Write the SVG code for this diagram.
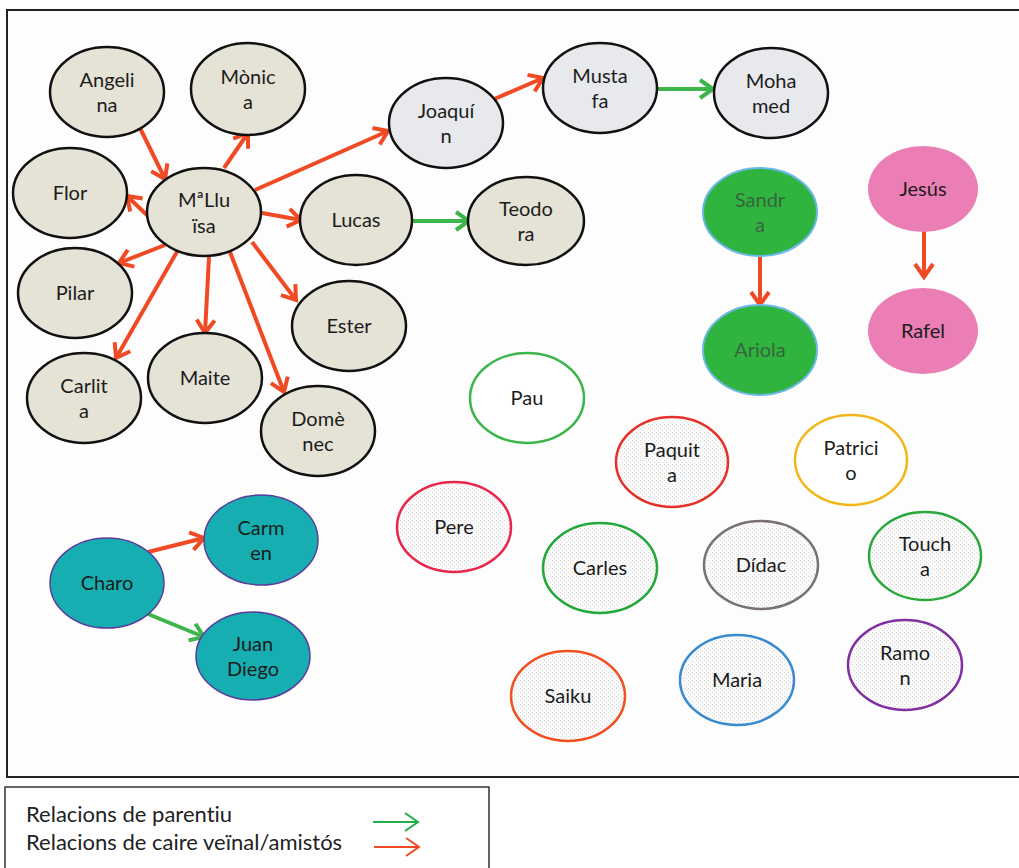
<svg xmlns="http://www.w3.org/2000/svg" width="1019" height="868" viewBox="0 0 1019 868">
<defs>
<style>
.t{font-family:Lato,"Open Sans","Liberation Sans",sans-serif;font-size:20px;fill:#1c1c1c;text-anchor:middle;font-variant-ligatures:none}
.lg{font-family:Lato,"Open Sans","Liberation Sans",sans-serif;font-size:22px;fill:#222;font-variant-ligatures:none}
.beige{fill:#e5e2d6;stroke:#111;stroke-width:2.5}
.grey{fill:#e7e9ec;stroke:#111;stroke-width:2.5}
.sand{fill:#2fb53f;stroke:#6ab8e8;stroke-width:2}
.pink{fill:#ea7eb5}
.teal{fill:#16aeb0;stroke:#5a3c9c;stroke-width:1.5}
.ring{stroke-width:2.5}
.red{stroke:#f04a24;stroke-width:4;fill:none;marker-end:url(#ar)}
.grn{stroke:#3db54a;stroke-width:4;fill:none;marker-end:url(#ag)}
</style>
<pattern id="dots" width="4" height="4" patternUnits="userSpaceOnUse">
<rect width="4" height="4" fill="#fbfbfb"/>
<rect x="0" y="0" width="1" height="1" fill="#d8d8d8"/>
<rect x="2" y="2" width="1" height="1" fill="#d8d8d8"/>
</pattern>
<marker id="ar" markerUnits="userSpaceOnUse" markerWidth="24" markerHeight="24" refX="14" refY="10" orient="auto" overflow="visible">
<path d="M1,1 L14,10 L1,19" fill="none" stroke="#f04a24" stroke-width="4" stroke-linejoin="miter"/>
</marker>
<marker id="ag" markerUnits="userSpaceOnUse" markerWidth="24" markerHeight="24" refX="14" refY="10" orient="auto" overflow="visible">
<path d="M1,1 L14,10 L1,19" fill="none" stroke="#3db54a" stroke-width="4" stroke-linejoin="miter"/>
</marker>
<marker id="lr" markerUnits="userSpaceOnUse" markerWidth="24" markerHeight="24" refX="14" refY="10" orient="auto" overflow="visible">
<path d="M1,1 L14,10 L1,19" fill="none" stroke="#f04a24" stroke-width="2"/>
</marker>
<marker id="lgm" markerUnits="userSpaceOnUse" markerWidth="24" markerHeight="24" refX="14" refY="10" orient="auto" overflow="visible">
<path d="M1,1 L14,10 L1,19" fill="none" stroke="#1fae48" stroke-width="2"/>
</marker>
</defs>
<rect width="1019" height="868" fill="#fff"/>
<rect x="7" y="10" width="1030" height="767" fill="#fdfdfd" stroke="#222" stroke-width="2"/>
<rect x="5" y="787" width="484" height="100" fill="#fff" stroke="#333" stroke-width="1.5"/>

<g id="connectors">
<line class="red" x1="140" y1="128" x2="165" y2="179"/>
<line class="red" x1="224" y1="168" x2="248" y2="133"/>
<line class="red" x1="149" y1="217" x2="127" y2="196"/>
<line class="red" x1="255" y1="190" x2="388" y2="131"/>
<line class="red" x1="262" y1="213" x2="301" y2="220"/>
<line class="red" x1="165" y1="245" x2="119" y2="263"/>
<line class="red" x1="178" y1="250" x2="116" y2="358"/>
<line class="red" x1="209" y1="257" x2="205" y2="333"/>
<line class="red" x1="230" y1="252" x2="284" y2="392"/>
<line class="red" x1="252" y1="242" x2="296" y2="300"/>
<line class="red" x1="492" y1="100" x2="543" y2="78"/>
<line class="red" x1="760" y1="257" x2="760" y2="305"/>
<line class="red" x1="924" y1="230" x2="924" y2="277"/>
<line class="red" x1="148" y1="552" x2="204" y2="538"/>
<line class="grn" x1="657" y1="89" x2="713" y2="89"/>
<line class="grn" x1="412" y1="221" x2="469" y2="221"/>
<line class="grn" x1="148" y1="614" x2="204" y2="637"/>
</g>

<g id="n-angelina"><ellipse class="beige" cx="107" cy="92" rx="57" ry="45"/><text class="t" x="107" y="87">Angeli</text><text class="t" x="107" y="112">na</text></g>
<g id="n-monica"><ellipse class="beige" cx="248" cy="89" rx="57" ry="46"/><text class="t" x="248" y="84">Mònic</text><text class="t" x="248" y="109">a</text></g>
<g id="n-flor"><ellipse class="beige" cx="70" cy="193" rx="57" ry="45"/><text class="t" x="70" y="200">Flor</text></g>
<g id="n-mlluisa"><ellipse class="beige" cx="204" cy="212" rx="57" ry="44"/><text class="t" x="204" y="207">MªLlu</text><text class="t" x="204" y="233">ïsa</text></g>
<g id="n-lucas"><ellipse class="beige" cx="356" cy="220" rx="56" ry="45"/><text class="t" x="356" y="227">Lucas</text></g>
<g id="n-pilar"><ellipse class="beige" cx="75" cy="293" rx="57" ry="45"/><text class="t" x="75" y="300">Pilar</text></g>
<g id="n-carlita"><ellipse class="beige" cx="84" cy="398" rx="57" ry="45"/><text class="t" x="84" y="393">Carlit</text><text class="t" x="84" y="418">a</text></g>
<g id="n-maite"><ellipse class="beige" cx="205" cy="378" rx="57" ry="45"/><text class="t" x="205" y="385">Maite</text></g>
<g id="n-ester"><ellipse class="beige" cx="349" cy="326" rx="57" ry="45"/><text class="t" x="349" y="333">Ester</text></g>
<g id="n-domenec"><ellipse class="beige" cx="318" cy="431" rx="57" ry="45"/><text class="t" x="318" y="426">Domè</text><text class="t" x="318" y="451">nec</text></g>
<g id="n-joaquin"><ellipse class="grey" cx="446" cy="123" rx="57" ry="45"/><text class="t" x="446" y="118">Joaquí</text><text class="t" x="446" y="143">n</text></g>
<g id="n-mustafa"><ellipse class="grey" cx="600" cy="88" rx="57" ry="45"/><text class="t" x="600" y="83">Musta</text><text class="t" x="600" y="108">fa</text></g>
<g id="n-mohamed"><ellipse class="grey" cx="771" cy="93" rx="57" ry="45"/><text class="t" x="771" y="88">Moha</text><text class="t" x="771" y="113">med</text></g>
<g id="n-teodora"><ellipse class="beige" cx="526" cy="221" rx="58" ry="44"/><text class="t" x="526" y="216">Teodo</text><text class="t" x="526" y="241">ra</text></g>
<g id="n-sandra"><ellipse class="sand" cx="760" cy="212" rx="57" ry="44"/><text class="t" x="760" y="207" style="fill:#3c4a3c;opacity:.75">Sandr</text><text class="t" x="760" y="232" style="fill:#3c4a3c;opacity:.75">a</text></g>
<g id="n-ariola"><ellipse class="sand" cx="760" cy="350" rx="57" ry="45"/><text class="t" x="760" y="357" style="fill:#3c4a3c;opacity:.75">Ariola</text></g>
<g id="n-jesus"><ellipse class="pink" cx="923" cy="189" rx="55" ry="43"/><text class="t" x="923" y="196">Jesús</text></g>
<g id="n-rafel"><ellipse class="pink" cx="923" cy="331" rx="55" ry="43"/><text class="t" x="923" y="338">Rafel</text></g>
<g id="n-pau"><ellipse class="ring" fill="#fff" stroke="#3cb54a" cx="527" cy="398" rx="57" ry="45"/><text class="t" x="527" y="405">Pau</text></g>
<g id="n-paquita"><ellipse class="ring" fill="url(#dots)" stroke="#e8302a" cx="672" cy="462" rx="56" ry="45"/><text class="t" x="672" y="457">Paquit</text><text class="t" x="672" y="482">a</text></g>
<g id="n-patricio"><ellipse class="ring" fill="#fff" stroke="#f2b81a" cx="851" cy="460" rx="56" ry="45"/><text class="t" x="851" y="455">Patrici</text><text class="t" x="851" y="480">o</text></g>
<g id="n-pere"><ellipse class="ring" fill="url(#dots)" stroke="#e8284a" cx="454" cy="527" rx="57" ry="45"/><text class="t" x="454" y="534">Pere</text></g>
<g id="n-carles"><ellipse class="ring" fill="url(#dots)" stroke="#22a83a" cx="600" cy="568" rx="57" ry="45"/><text class="t" x="600" y="575">Carles</text></g>
<g id="n-didac"><ellipse class="ring" fill="url(#dots)" stroke="#7a7272" cx="761" cy="565" rx="57" ry="44"/><text class="t" x="761" y="572">Dídac</text></g>
<g id="n-toucha"><ellipse class="ring" fill="url(#dots)" stroke="#2aa83c" cx="925" cy="556" rx="56" ry="44"/><text class="t" x="925" y="551">Touch</text><text class="t" x="925" y="576">a</text></g>
<g id="n-saiku"><ellipse class="ring" fill="url(#dots)" stroke="#f05020" cx="568" cy="696" rx="57" ry="45"/><text class="t" x="568" y="703">Saiku</text></g>
<g id="n-maria"><ellipse class="ring" fill="url(#dots)" stroke="#3a8ad0" cx="737" cy="680" rx="57" ry="45"/><text class="t" x="737" y="687">Maria</text></g>
<g id="n-ramon"><ellipse class="ring" fill="url(#dots)" stroke="#8030a0" cx="905" cy="665" rx="57" ry="45"/><text class="t" x="905" y="660">Ramo</text><text class="t" x="905" y="685">n</text></g>
<g id="n-charo"><ellipse class="teal" cx="107" cy="583" rx="57" ry="45"/><text class="t" x="107" y="590">Charo</text></g>
<g id="n-carmen"><ellipse class="teal" cx="261" cy="540" rx="57" ry="45"/><text class="t" x="261" y="535">Carm</text><text class="t" x="261" y="560">en</text></g>
<g id="n-juandiego"><ellipse class="teal" cx="253" cy="656" rx="57" ry="44"/><text class="t" x="253" y="651">Juan</text><text class="t" x="253" y="676">Diego</text></g>

<g id="legend">
<text class="lg" x="26" y="822">Relacions de parentiu</text>
<text class="lg" x="26" y="850">Relacions de caire veïnal/amistós</text>
<line x1="373" y1="822" x2="418" y2="822" stroke="#1fae48" stroke-width="2" marker-end="url(#lgm)"/>
<line x1="374" y1="847" x2="419" y2="847" stroke="#f04a24" stroke-width="2" marker-end="url(#lr)"/>
</g>
</svg>
